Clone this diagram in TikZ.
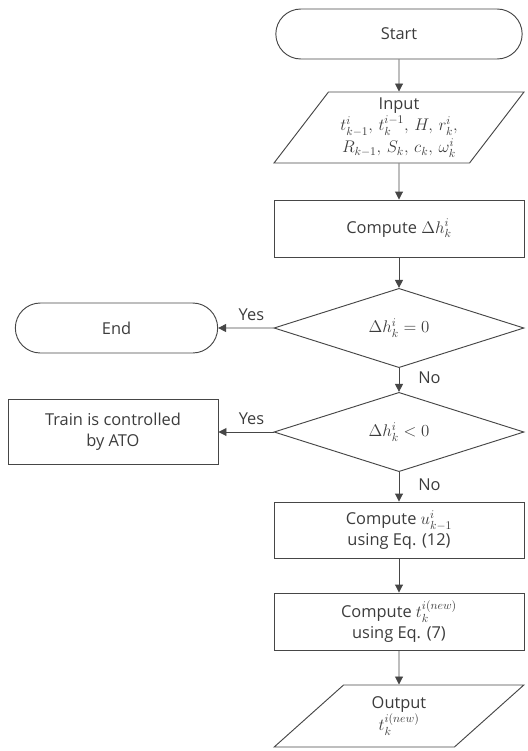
\documentclass[tikz,border=0pt]{standalone}
\usepackage{fontspec}
\setmainfont{Open Sans}
\usepackage{amsmath,amssymb}
\usepackage{xcolor}
\usetikzlibrary{shapes.geometric,shapes.misc,arrows.meta,positioning}
\definecolor{linegray}{RGB}{70,70,70}
\definecolor{textgray}{RGB}{60,60,60}

\begin{document}
\begin{tikzpicture}[
    x=0.03cm, y=-0.03cm,
    every node/.style={font=\fontsize{14}{18}\selectfont, text=textgray},
    base/.style={draw=linegray, line width=0.8pt, align=center, inner sep=2pt},
    term/.style={base, rounded rectangle, minimum width=7.53cm, minimum height=1.5cm},
    box/.style={base, rectangle, minimum width=7.5cm, minimum height=1.71cm},
    decision/.style={base, diamond, minimum width=7.5cm, minimum height=2.13cm, inner sep=0pt},
    io/.style={base, trapezium, trapezium stretches=true, minimum width=7.5cm},
    arrow/.style={-{Triangle[length=2.4mm,width=2.4mm]}, draw=linegray, line width=0.8pt}
]
    \useasboundingbox (0,0) rectangle (527,751);

    % Start
    \node[term] (start) at (399,34) {Start};

    % Input
    \node[io, minimum height=2.13cm, trapezium left angle=53.8, trapezium right angle=126.2] (input) at (399,127.5)
        {Input\\ $t_{k-1}^{i},\, t_{k}^{i-1},\, H,\, r_{k}^{i},$\\[1pt] $R_{k-1},\, S_{k},\, c_{k},\, \omega_{k}^{i}$};

    % Compute delta h
    \node[box] (dh) at (399,228.5) {Compute $\Delta h_{k}^{i}$};

    % Decisions
    \node[decision] (zero) at (399,328) {$\Delta h_{k}^{i} = 0$};
    \node[decision, minimum height=2.1cm] (neg) at (399,432) {$\Delta h_{k}^{i} < 0$};

    % End and ATO
    \node[term, minimum width=6.21cm] (end) at (116.5,328) {End};
    \node[box, minimum width=6.3cm, minimum height=1.95cm] (ato) at (113,432) {Train is controlled\\by ATO};

    % Compute u and t
    \node[box, minimum height=1.68cm] (ucalc) at (399,530) {Compute $u_{k-1}^{i}$\\using Eq. (12)};
    \node[box] (tcalc) at (399,621.5) {Compute $t_{k}^{i(new)}$\\using Eq. (7)};

    % Output
    \node[io, minimum height=1.86cm, trapezium left angle=50, trapezium right angle=130] (output) at (399,716)
        {Output\\ $t_{k}^{i(new)}$};

    % Arrows
    \draw[arrow] (start) -- (input);
    \draw[arrow] (input) -- (dh);
    \draw[arrow] (dh) -- (zero);
    \draw[arrow] (zero) -- node[pos=0.42, right=0.45cm] {No} (neg);
    \draw[arrow] (zero) -- node[pos=0.4, above=0.1cm] {Yes} (end);
    \draw[arrow] (neg) -- node[pos=0.4, above=0.1cm] {Yes} (ato);
    \draw[arrow] (neg) -- node[pos=0.42, right=0.45cm] {No} (ucalc);
    \draw[arrow] (ucalc) -- (tcalc);
    \draw[arrow] (tcalc) -- (output);
\end{tikzpicture}
\end{document}
